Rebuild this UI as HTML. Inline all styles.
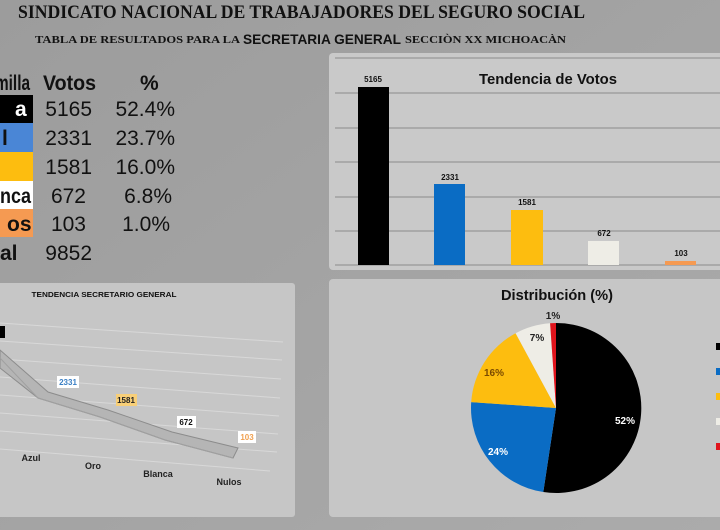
<!DOCTYPE html>
<html><head><meta charset="utf-8"><style>
html,body{margin:0;padding:0;background:#a5a5a5;}
svg{display:block}
.s{font-family:"Liberation Sans",sans-serif}
.r{font-family:"Liberation Serif",serif;font-weight:bold}
</style></head><body>
<svg width="720" height="530" viewBox="0 0 720 530" xmlns="http://www.w3.org/2000/svg">
<defs>
<linearGradient id="bg" x1="0" y1="0" x2="1" y2="1">
<stop offset="0" stop-color="#9c9c9c"/><stop offset="1" stop-color="#ababab"/>
</linearGradient>
</defs>
<rect width="720" height="530" fill="url(#bg)"/>
<text x="18" y="18" class="r" font-size="19" textLength="567" lengthAdjust="spacingAndGlyphs" fill="#111">SINDICATO NACIONAL DE TRABAJADORES DEL SEGURO SOCIAL</text>
<text x="35" y="43" class="r" font-size="11" textLength="205" lengthAdjust="spacingAndGlyphs" fill="#111">TABLA DE RESULTADOS PARA LA</text>
<text x="243" y="44" class="s" font-size="14" font-weight="bold" textLength="158" lengthAdjust="spacingAndGlyphs" fill="#111">SECRETARIA GENERAL</text>
<text x="405" y="43" class="r" font-size="11" textLength="161" lengthAdjust="spacingAndGlyphs" fill="#111">SECCIÒN XX MICHOACÀN</text>

<g class="s" font-size="21" fill="#111">
<text x="-5" y="90" font-weight="bold" textLength="35" lengthAdjust="spacingAndGlyphs">milla</text>
<text x="43" y="90" font-weight="bold" textLength="53" lengthAdjust="spacingAndGlyphs">Votos</text>
<text x="140" y="90" font-weight="bold">%</text>
<rect x="0" y="95" width="33" height="28" fill="#000"/>
<rect x="0" y="123" width="33" height="29" fill="#4a86d6"/>
<rect x="0" y="152" width="33" height="29" fill="#fdbd0f"/>
<rect x="0" y="181" width="33" height="28" fill="#fff"/>
<rect x="0" y="209" width="33" height="28" fill="#f59a52"/>
<text x="15" y="116" font-weight="bold" fill="#fff">a</text>
<text x="2" y="145" font-weight="bold">l</text>
<text x="0" y="203" font-weight="bold" textLength="31" lengthAdjust="spacingAndGlyphs">nca</text>
<text x="7" y="231" font-weight="bold">os</text>
<text x="0" y="260" font-weight="bold">al</text>
<g text-anchor="end">
<text x="92" y="116">5165</text><text x="175" y="116">52.4%</text>
<text x="92" y="145">2331</text><text x="175" y="145">23.7%</text>
<text x="92" y="174">1581</text><text x="175" y="174">16.0%</text>
<text x="86" y="203">672</text><text x="172" y="203">6.8%</text>
<text x="86" y="231">103</text><text x="170" y="231">1.0%</text>
<text x="92" y="260">9852</text>
</g>
</g>

<rect x="329" y="53" width="400" height="217" rx="4" fill="#c9c9c9"/>
<g stroke="#8a8a8a" stroke-width="1">
<line x1="335" y1="58" x2="720" y2="58"/><line x1="335" y1="93" x2="720" y2="93"/>
<line x1="335" y1="128" x2="720" y2="128"/><line x1="335" y1="162" x2="720" y2="162"/>
<line x1="335" y1="197" x2="720" y2="197"/><line x1="335" y1="231" x2="720" y2="231"/>
<line x1="335" y1="265" x2="720" y2="265"/>
</g>
<rect x="358" y="87" width="31" height="178" fill="#000"/>
<rect x="434" y="184" width="31" height="81" fill="#0a6cc4"/>
<rect x="511" y="210" width="32" height="55" fill="#fdbd0f"/>
<rect x="588" y="241" width="31" height="24" fill="#eeede6"/>
<rect x="665" y="261" width="31" height="4" fill="#f59a52"/>
<g class="s" font-size="8" fill="#111" text-anchor="middle" font-weight="bold">
<text x="373" y="82">5165</text><text x="450" y="180">2331</text>
<text x="527" y="205">1581</text><text x="604" y="236">672</text><text x="681" y="256">103</text>
</g>
<text x="548" y="84" class="s" font-size="15" font-weight="bold" text-anchor="middle" textLength="138" lengthAdjust="spacingAndGlyphs" fill="#111">Tendencia de Votos</text>

<rect x="-5" y="283" width="300" height="234" rx="3" fill="#c6c6c6"/>
<g stroke="#d8d8d8" stroke-width="1">
<line x1="0" y1="323" x2="283" y2="342"/><line x1="0" y1="341" x2="282" y2="360"/>
<line x1="0" y1="359" x2="281" y2="379"/><line x1="0" y1="377" x2="280" y2="398"/>
<line x1="0" y1="395" x2="279" y2="416"/><line x1="0" y1="413" x2="278" y2="434"/>
<line x1="0" y1="431" x2="277" y2="452"/><line x1="0" y1="449" x2="270" y2="471"/>
</g>
<polygon points="0,350 48,392 108,410 172,432 238,448 233,458 165,440 100,417 38,398 0,368" fill="#b5b5b5" stroke="#8c8c8c" stroke-width="1"/>
<polyline points="0,358 38,398 100,417 165,440 233,458" fill="none" stroke="#a0a0a0"/>
<rect x="0" y="326" width="5" height="12" fill="#000"/>
<rect x="57" y="376" width="22" height="12" fill="#fff"/>
<rect x="116" y="394" width="21" height="12" fill="#f8cf78"/>
<rect x="177" y="416" width="19" height="12" fill="#fff"/>
<rect x="238" y="431" width="18" height="12" fill="#fff"/>
<g class="s" font-size="8" font-weight="bold" text-anchor="middle">
<text x="68" y="385" fill="#3a7fc4">2331</text>
<text x="126" y="403" fill="#222">1581</text>
<text x="186" y="425" fill="#111">672</text>
<text x="247" y="440" fill="#f0a050">103</text>
<text x="104" y="297" fill="#111" font-size="7.5" textLength="145" lengthAdjust="spacingAndGlyphs">TENDENCIA SECRETARIO GENERAL</text>
<g font-size="9" fill="#222">
<text x="31" y="461">Azul</text><text x="93" y="469">Oro</text>
<text x="158" y="477">Blanca</text><text x="229" y="485">Nulos</text>
</g>
</g>

<rect x="329" y="279" width="400" height="238" rx="4" fill="#c6c6c6"/>
<text x="557" y="300" class="s" font-size="15" font-weight="bold" text-anchor="middle" textLength="112" lengthAdjust="spacingAndGlyphs" fill="#111">Distribución (%)</text>
<path d="M556,408 L556,323 A85,85 0 1,1 543.3,492 Z" fill="#000"/>
<path d="M556,408 L543.3,492 A85,85 0 0,1 471.2,402.1 Z" fill="#0a6cc4"/>
<path d="M556,408 L471.2,402.1 A85,85 0 0,1 515.6,333.2 Z" fill="#fdbd0f"/>
<path d="M556,408 L515.6,333.2 A85,85 0 0,1 550.1,323.2 Z" fill="#eeede6"/>
<path d="M556,408 L550.1,323.2 A85,85 0 0,1 556,323 Z" fill="#e0141c"/>
<g class="s" font-size="10" font-weight="bold" text-anchor="middle">
<text x="625" y="424" fill="#fff">52%</text>
<text x="498" y="455" fill="#fff">24%</text>
<text x="494" y="376" fill="#7a4a00">16%</text>
<text x="537" y="341" fill="#222">7%</text>
<text x="553" y="319" fill="#222">1%</text>
</g>
<rect x="716" y="343" width="4" height="7" fill="#000"/>
<rect x="716" y="368" width="4" height="7" fill="#0a6cc4"/>
<rect x="716" y="393" width="4" height="7" fill="#fdbd0f"/>
<rect x="716" y="418" width="4" height="7" fill="#eeede6"/>
<rect x="716" y="443" width="4" height="7" fill="#e0141c"/>
</svg>
</body></html>
